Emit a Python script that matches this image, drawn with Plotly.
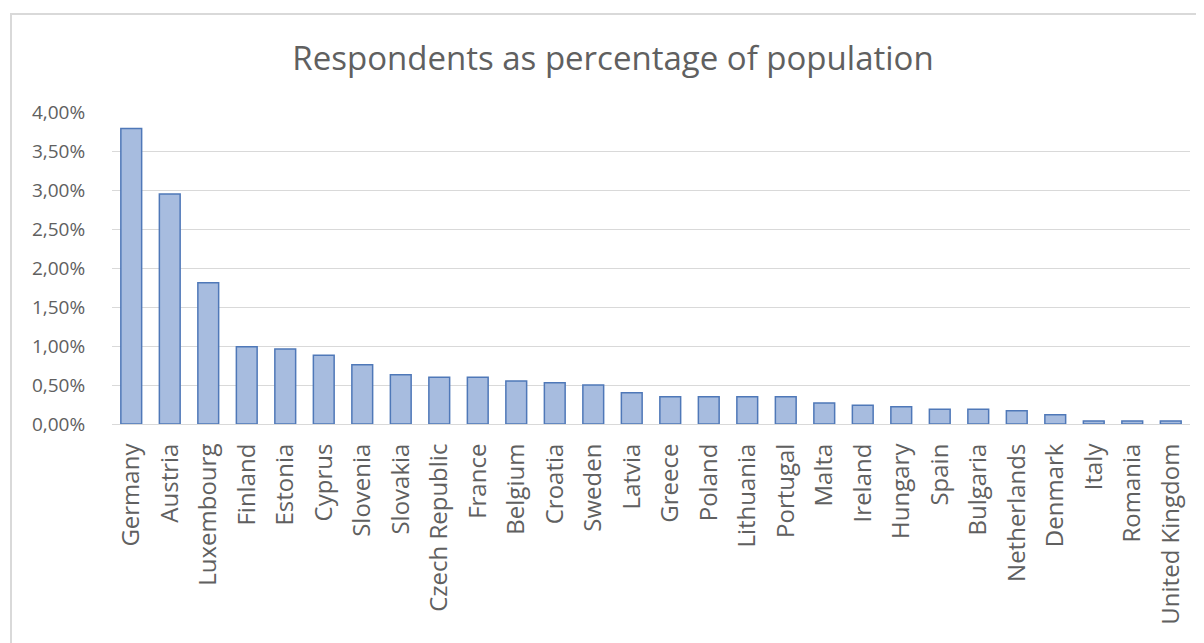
import plotly.graph_objects as go

countries = ["Germany", "Austria", "Luxembourg", "Finland", "Estonia", "Cyprus", "Slovenia",
             "Slovakia", "Czech Republic", "France", "Belgium", "Croatia", "Sweden", "Latvia",
             "Greece", "Poland", "Lithuania", "Portugal", "Malta", "Ireland", "Hungary", "Spain",
             "Bulgaria", "Netherlands", "Denmark", "Italy", "Romania", "United Kingdom"]
values_pct = [3.79, 2.95, 1.81, 0.99, 0.96, 0.88, 0.76, 0.63, 0.60, 0.60, 0.55, 0.53, 0.50, 0.40,
              0.35, 0.35, 0.35, 0.35, 0.27, 0.24, 0.22, 0.19, 0.19, 0.17, 0.12, 0.04, 0.04, 0.04]
y_ticks = [0, 0.5, 1.0, 1.5, 2.0, 2.5, 3.0, 3.5, 4.0]
y_tick_labels = [f"{v:.2f}%".replace(".", ",") for v in y_ticks]

W, H = 1204, 643
OFF = 8  # page body margin offset
L, R, T, B = 112 - OFF, 14 + OFF, 112 - OFF, 219 + OFF
pw, ph = W - L - R, H - T - B

fig = go.Figure(go.Bar(
    x=countries, y=values_pct,
    marker=dict(color="#a7bcdf", line=dict(color="#4f78b8", width=1.5)),
))

fig.update_layout(
    width=W, height=H,
    margin=dict(l=L, r=R, t=T, b=B),
    paper_bgcolor="white", plot_bgcolor="white",
    bargap=0.46,
    showlegend=False,
    font=dict(family="Open Sans", color="#606060"),
    title=dict(text="Respondents as percentage of population", x=(613 - OFF - L) / pw,
               xref="paper", xanchor="center",
               y=1 - (58 - OFF) / H, yanchor="middle",
               font=dict(family="Open Sans", size=33, color="#606060")),
    xaxis=dict(tickangle=-90, tickfont=dict(size=24, color="#606060"), showgrid=False,
               showline=True, linecolor="#d9d9d9", linewidth=1,
               ticks="outside", ticklen=9, tickcolor="white"),
    yaxis=dict(range=[0, 4.0], tickvals=y_ticks, ticktext=y_tick_labels,
               tickfont=dict(size=19, color="#606060"), gridcolor="#d9d9d9", gridwidth=1,
               zeroline=False, showline=False, ticks="outside", ticklen=22, tickcolor="white"),
    shapes=[dict(type="rect", xref="paper", yref="paper",
                 x0=(11 - OFF - L) / pw, x1=1.2, y0=-1.0, y1=1 + (T - (14 - OFF)) / ph,
                 line=dict(color="#d9d9d9", width=2), fillcolor="rgba(0,0,0,0)", layer="below")],
)

fig.write_html("out.html")
